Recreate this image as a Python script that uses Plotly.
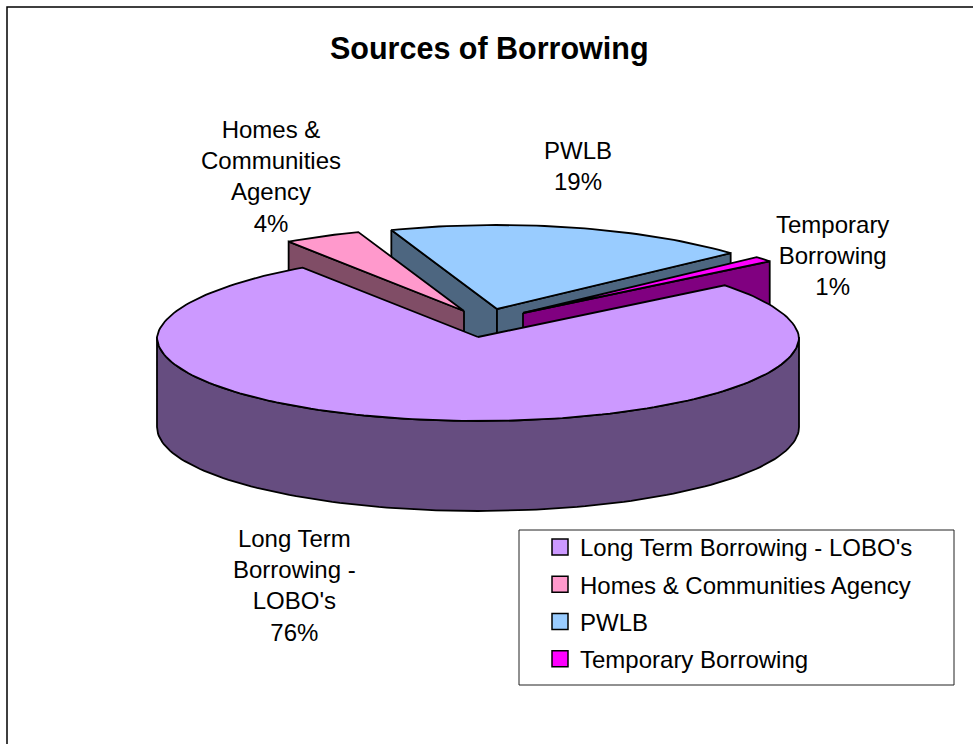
import math
import plotly.graph_objects as go

# Borrowing mix, in the order the slices run clockwise
categories = ["Long Term Borrowing - LOBO's", "Homes & Communities Agency", "PWLB", "Temporary Borrowing"]
shares = [76, 4, 19, 1]
slice_labels = ["Long Term<br>Borrowing -<br>LOBO's", "Homes &<br>Communities<br>Agency", "PWLB", "Temporary<br>Borrowing"]
top_colors = ["#CC99FF", "#FF99CC", "#99CCFF", "#FF00FF"]
wall_colors = ["#664D80", "#804D66", "#4D6680", "#800080"]
label_anchors = [(294, 585), (271, 176), (578, 166), (832, 255)]

# Pie geometry, in plot units: tilted disc with each slice pulled out from the centre
FIRST_ANGLE = 52.0
RX, RY, DEPTH = 321, 84, 90
PERSPECTIVE = 0.04  # the far side of the disc narrows slightly
apex = [(478, 337), (464, 311), (497, 309), (523, 313)]
draw_order = [2, 3, 1, 0]  # back slices first
FONT = "Liberation Sans, Arial, sans-serif"
LABEL_SIZE = 24


def rim(ang, c, drop=0):
    a = math.radians(ang)
    squeeze = 1 - PERSPECTIVE * max(math.cos(a), 0)
    return c[0] + RX * math.sin(a) * squeeze, c[1] - RY * math.cos(a) + drop


def arc(a0, a1, c, drop=0):
    n = max(2, int(abs(a1 - a0) / 1.5))
    return [rim(a0 + (a1 - a0) * i / n, c, drop) for i in range(n + 1)]


def polygon(points, fill):
    xs = [p[0] for p in points] + [points[0][0]]
    ys = [p[1] for p in points] + [points[0][1]]
    return go.Scatter(x=xs, y=ys, mode="lines", fill="toself", fillcolor=fill,
                      line=dict(color="black", width=1.8), hoverinfo="skip", showlegend=False)


def cut_face(ang, c, fill):
    edge = rim(ang, c)
    return polygon([c, edge, (edge[0], edge[1] + DEPTH), (c[0], c[1] + DEPTH)], fill)


starts, running = [], FIRST_ANGLE
for s in shares:
    starts.append(running)
    running += s * 3.6

fig = go.Figure()
for i in draw_order:
    a0, a1 = starts[i], starts[i] + shares[i] * 3.6
    c = apex[i]
    # Side walls that face the viewer
    if math.sin(math.radians(a0)) < 0:
        fig.add_trace(cut_face(a0, c, wall_colors[i]))
    if math.sin(math.radians(a1)) > 0:
        fig.add_trace(cut_face(a1, c, wall_colors[i]))
    lo, hi = max(a0, 90), min(a1, 270)
    if lo < hi:
        fig.add_trace(polygon(arc(lo, hi, c) + arc(hi, lo, c, DEPTH), wall_colors[i]))
    fig.add_trace(polygon([c] + arc(a0, a1, c), top_colors[i]))

# Legend entries
for name, color in zip(categories, top_colors):
    fig.add_trace(go.Scatter(x=[None], y=[None], mode="markers", name=name, legendgroup=name,
                             marker=dict(symbol="square", size=16, color=color,
                                         line=dict(color="black", width=1.5))))

for text, share, (x, y) in zip(slice_labels, shares, label_anchors):
    fig.add_annotation(x=x, y=y, text=f"{text}<br>{share}%", showarrow=False, align="center",
                       xanchor="center", yanchor="middle",
                       font=dict(family=FONT, size=LABEL_SIZE, color="black"))

fig.add_annotation(x=489, y=48, text="<b>Sources of Borrowing</b>", showarrow=False,
                   xanchor="center", yanchor="middle",
                   font=dict(family=FONT, size=30.5, color="black"))

fig.add_shape(type="rect", x0=7, y0=7, x1=990, y1=760, line=dict(color="black", width=1.5))
fig.add_shape(type="rect", x0=519, y0=530, x1=954, y1=685, line=dict(color="#222222", width=1),
              fillcolor="white", layer="below")

fig.update_layout(
    width=973, height=744, margin=dict(l=0, r=0, t=0, b=0, pad=0),
    paper_bgcolor="white", plot_bgcolor="white",
    xaxis=dict(range=[0, 973], visible=False, fixedrange=True),
    yaxis=dict(range=[744, 0], visible=False, fixedrange=True),
    legend=dict(x=540 / 973, y=1 - 525 / 744, xanchor="left", yanchor="top",
                bgcolor="rgba(0,0,0,0)", borderwidth=0, itemsizing="trace",
                tracegroupgap=3, font=dict(family=FONT, size=LABEL_SIZE, color="black")),
)

fig.write_html("out.html", config=dict(displayModeBar=False))
